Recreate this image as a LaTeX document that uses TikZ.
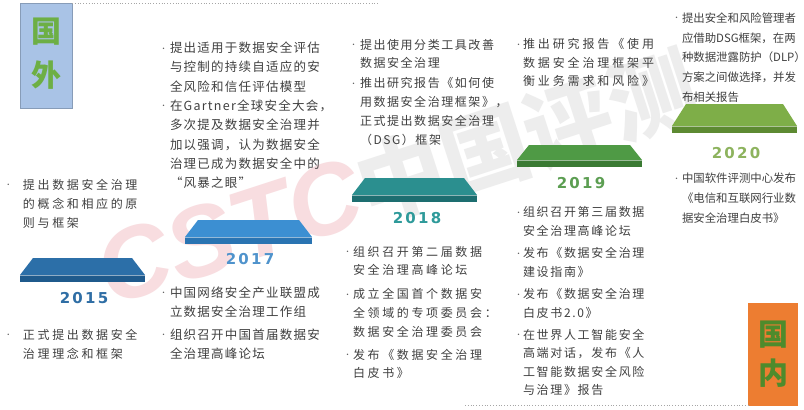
\documentclass[tikz,border=0pt]{standalone}
\usepackage{fontspec}
\setmainfont{Noto Sans CJK SC}
\newfontfamily\yearfont[LetterSpace=15]{DejaVu Sans}
\newfontfamily\wmfont{Liberation Sans}
\definecolor{txtgray}{HTML}{404040}
\definecolor{bulgray}{HTML}{606060}
\definecolor{boxblue}{HTML}{A9C3E6}
\definecolor{boxorange}{HTML}{ED7D31}
\definecolor{gwgreen}{HTML}{6DAF45}
\definecolor{gngreen}{HTML}{4E8B2C}
\definecolor{wmpink}{HTML}{F8DDE0}
\definecolor{wmgray}{HTML}{EDEDED}
\definecolor{aTop}{HTML}{2C6FA8}\definecolor{aFront}{HTML}{1F5A8C}\definecolor{aYear}{HTML}{2F6EA5}
\definecolor{bTop}{HTML}{3C8FD2}\definecolor{bFront}{HTML}{2A74B2}\definecolor{bYear}{HTML}{4F93CC}
\definecolor{cTop}{HTML}{2B8F8F}\definecolor{cFront}{HTML}{1D6E70}\definecolor{cYear}{HTML}{2E9A9A}
\definecolor{dTop}{HTML}{4F9A45}\definecolor{dFront}{HTML}{3A7A33}\definecolor{dYear}{HTML}{5C9E52}
\definecolor{eTop}{HTML}{7EAE48}\definecolor{eFront}{HTML}{5D8A32}\definecolor{eYear}{HTML}{8DB35E}
\newcommand\bul[1]{\makebox[#1][l]{\raisebox{1.5pt}{\fontsize{7}{7}\selectfont\color{bulgray}•}}}
\newcommand\blkfont[3]{\fontsize{#1}{#3}\selectfont\addfontfeature{LetterSpace=#2}\color{txtgray}}
% slab: x1, x2, ytop, ymid, ybot, top colour, front colour, inset
\newcommand\slab[8]{%
  \fill[#6] (#1,#4) -- (#1+#8,#3) -- (#2-#8,#3) -- (#2,#4) -- cycle;
  \fill[#7] (#1,#4) rectangle (#2,#5);
  \draw[white,opacity=0.5,line width=0.6pt] (#1,#4) -- (#2,#4);}
\tikzset{
  txt/.style={anchor=north west, inner sep=0pt, outer sep=0pt},
  year/.style={inner sep=0pt, font=\yearfont\bfseries\fontsize{15}{15}\selectfont},
  dots/.style={draw=gray!70, dotted, line width=0.8pt}
}
\begin{document}
\begin{tikzpicture}[x=1pt,y=-1pt]
\useasboundingbox (0,0) rectangle (804,410);
\fill[white] (0,0) rectangle (804,410);
% watermark
\node[rotate=18, inner sep=0pt, anchor=west] (wm) at (100,275) {\fontsize{100}{100}\selectfont
  \textcolor{wmpink}{\wmfont\bfseries\itshape CSTC}\textcolor{wmgray}{\fontsize{88}{88}\selectfont\bfseries 中国评测}};
% side labels
\node[fill=boxblue, draw=boxblue!80!black, line width=0.3pt, minimum width=52pt, minimum height=105pt, inner sep=0pt, anchor=north west] (gw) at (20,3) {};
\node[text=gwgreen, font=\bfseries\fontsize{30}{30}\selectfont] (gw1) at (46,32) {国};
\node[text=gwgreen, font=\bfseries\fontsize{30}{30}\selectfont] (gw2) at (46,75) {外};
\node[fill=boxorange, minimum width=50pt, minimum height=103pt, inner sep=0pt, anchor=north west] (gn) at (748,303) {};
\node[text=gngreen, font=\bfseries\fontsize{30}{30}\selectfont] (gn1) at (773,335) {国};
\node[text=gngreen, font=\bfseries\fontsize{30}{30}\selectfont] (gn2) at (773,373) {内};
\coordinate (t0) at (72,3); \coordinate (t1) at (378,3);
\draw[dots] (t0) -- (t1);
\coordinate (b0) at (465,405); \coordinate (b1) at (748,405);
\draw[dots] (b0) -- (b1);
% slabs
\slab{20}{145}{258}{275}{282}{aTop}{aFront}{13}
\slab{185}{312}{220}{237}{244}{bTop}{bFront}{13}
\slab{352}{477}{178}{195}{202}{cTop}{cFront}{13}
\slab{517}{642}{145}{160}{167}{dTop}{dFront}{12}
\slab{672}{797}{104}{126}{133}{eTop}{eFront}{14}
% years
\node[year, text=aYear] (y15) at (84,298) {2015};
\node[year, text=bYear] (y17) at (250,259) {2017};
\node[year, text=cYear] (y18) at (417,218) {2018};
\node[year, text=dYear] (y19) at (581,183) {2019};
\node[year, text=eYear] (y20) at (736,153) {2020};
% 2015
\node[txt] (a1) at (5,176) {\blkfont{12}{22}{19}\begin{tabular}{@{}l@{}l@{}}
\bul{18pt} & 提出数据安全治理\\ & 的概念和相应的原\\ & 则与框架\end{tabular}};
\node[txt] (a2) at (5,326) {\blkfont{12}{22}{19}\begin{tabular}{@{}l@{}l@{}}
\bul{18pt} & 正式提出数据安全\\ & 治理理念和框架\end{tabular}};
% 2017
\node[txt] (b1) at (160,39) {\blkfont{12.5}{10}{19.3}\begin{tabular}{@{}l@{}l@{}}
\bul{10pt} & 提出适用于数据安全评估\\ & 与控制的持续自适应的安\\ & 全风险和信任评估模型\\
\bul{10pt} & 在Gartner全球安全大会，\\ & 多次提及数据安全治理并\\ & 加以强调，认为数据安全\\ & 治理已成为数据安全中的\\ & “风暴之眼”\end{tabular}};
\node[txt] (b2) at (160,284) {\blkfont{12.5}{10}{19}\begin{tabular}{@{}l@{}l@{}}
\bul{10pt} & 中国网络安全产业联盟成\\ & 立数据安全治理工作组\\[4pt]
\bul{10pt} & 组织召开中国首届数据安\\ & 全治理高峰论坛\end{tabular}};
% 2018
\node[txt] (c1) at (350,36) {\blkfont{12}{13}{18.7}\begin{tabular}{@{}l@{}l@{}}
\bul{10pt} & 提出使用分类工具改善\\ & 数据安全治理\\[1.5pt]
\bul{10pt} & 推出研究报告《如何使\\ & 用数据安全治理框架》，\\ & 正式提出数据安全治理\\ & （DSG）框架\end{tabular}};
\node[txt] (c2) at (344,243) {\blkfont{12}{22}{18.8}\begin{tabular}{@{}l@{}l@{}}
\bul{9pt} & 组织召开第二届数据\\ & 安全治理高峰论坛\\[5pt]
\bul{9pt} & 成立全国首个数据安\\ & 全领域的专项委员会：\\ & 数据安全治理委员会\\[4pt]
\bul{9pt} & 发布《数据安全治理\\ & 白皮书》\end{tabular}};
% 2019
\node[txt] (d1) at (515,36) {\blkfont{12}{24}{18.5}\begin{tabular}{@{}l@{}l@{}}
\bul{8pt} & 推出研究报告《使用\\ & 数据安全治理框架平\\ & 衡业务需求和风险》\end{tabular}};
\node[txt] (d2) at (515,204) {\blkfont{12}{14}{18.4}\begin{tabular}{@{}l@{}l@{}}
\bul{8pt} & 组织召开第三届数据\\ & 安全治理高峰论坛\\[4pt]
\bul{8pt} & 发布《数据安全治理\\ & 建设指南》\\[4.5pt]
\bul{8pt} & 发布《数据安全治理\\ & 白皮书2.0》\\[3.5pt]
\bul{8pt} & 在世界人工智能安全\\ & 高端对话，发布《人\\ & 工智能数据安全风险\\ & 与治理》报告\end{tabular}};
% 2020
\node[txt] (e1) at (673,8.5) {\blkfont{11.4}{0}{19.8}\begin{tabular}{@{}l@{}l@{}}
\bul{9pt} & 提出安全和风险管理者\\ & 应借助DSG框架，在两\\ & 种数据泄露防护（DLP）\\ & 方案之间做选择，并发\\ & 布相关报告\end{tabular}};
\node[txt] (e2) at (673,168.5) {\blkfont{11.4}{0}{20}\begin{tabular}{@{}l@{}l@{}}
\bul{9pt} & 中国软件评测中心发布\\ & 《电信和互联网行业数\\ & 据安全治理白皮书》\end{tabular}};
\end{tikzpicture}
\end{document}
